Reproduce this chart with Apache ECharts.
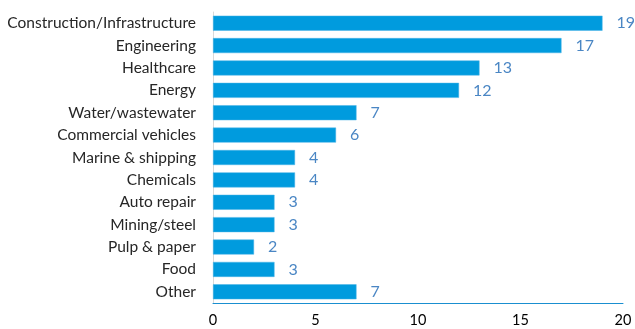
<!DOCTYPE html>
<html lang="en">
<head>
    <meta charset="UTF-8">
    <title>Industries</title>
    <script src="https://cdn.jsdelivr.net/npm/echarts@6/dist/echarts.min.js"></script>
    <style>
        html, body { margin: 0; padding: 0; background: #fff; }
        #chart { width: 635px; height: 329px; }
    </style>
</head>
<body>
    <div id="chart"></div>
    <script>
        // categories from top to bottom
        const categories = [
            'Construction/Infrastructure', 'Engineering', 'Healthcare', 'Energy',
            'Water/wastewater', 'Commercial vehicles', 'Marine & shipping', 'Chemicals',
            'Auto repair', 'Mining/steel', 'Pulp & paper', 'Food', 'Other'
        ];
        const counts = [19, 17, 13, 12, 7, 6, 4, 4, 3, 3, 2, 3, 7];
        const xTicks = [0, 5, 10, 15, 20];

        const font = 'Lato, "Liberation Sans", sans-serif';
        const chart = echarts.init(document.getElementById('chart'));

        chart.setOption({
            animation: false,
            grid: { left: 213, right: 12, top: 12, bottom: 26 },
            xAxis: {
                type: 'value',
                min: xTicks[0],
                max: xTicks[xTicks.length - 1],
                interval: 5,
                splitLine: { show: false },
                axisLine: { show: true, lineStyle: { color: '#1a8fd0', width: 1 } },
                axisTick: { show: false },
                axisLabel: { color: '#000', fontSize: 14.5, fontFamily: font, margin: 10 }
            },
            yAxis: {
                type: 'category',
                inverse: true,
                data: categories,
                axisLine: { show: true, lineStyle: { color: '#d9d9d9', width: 1 } },
                axisTick: { show: false },
                axisLabel: { color: '#262626', fontSize: 15.5, fontFamily: font, margin: 17 }
            },
            series: [{
                type: 'bar',
                data: counts,
                barCategoryGap: '33%',
                itemStyle: { color: '#009bde', borderColor: '#49b3e6', borderWidth: 0.5 },
                label: {
                    show: true,
                    position: 'right',
                    distance: 14,
                    color: '#4a86c4',
                    fontSize: 16,
                    fontFamily: font
                }
            }]
        });
    </script>
</body>
</html>
